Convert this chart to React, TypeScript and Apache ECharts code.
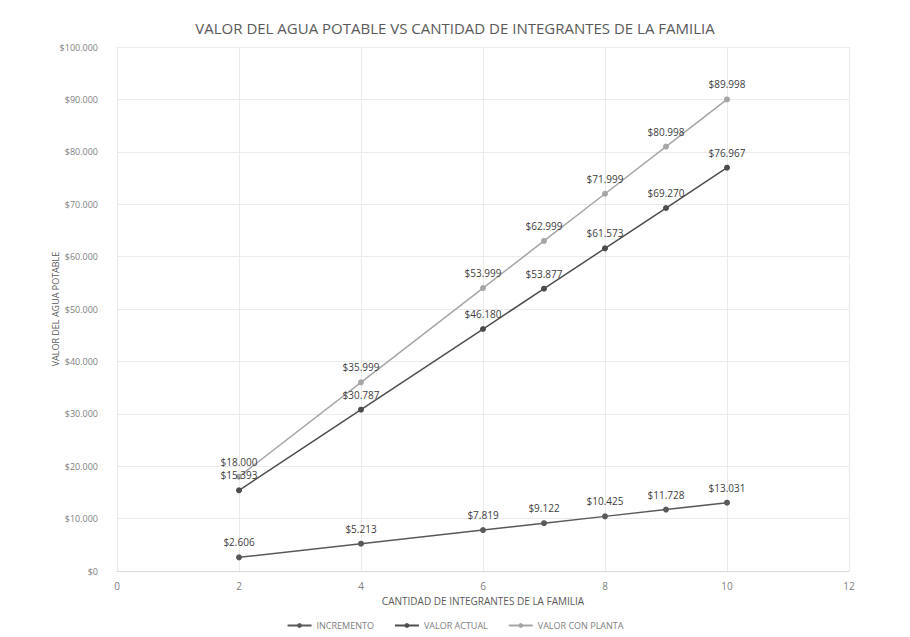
import React, { useEffect, useRef } from "react";
import * as echarts from "echarts";

const xValues = [2, 4, 6, 7, 8, 9, 10];
const incremento = [2606, 5213, 7819, 9122, 10425, 11728, 13031];
const valorActual = [15393, 30787, 46180, 53877, 61573, 69270, 76967];
const valorConPlanta = [18000, 35999, 53999, 62999, 71999, 80998, 89998];

const FONT = "'Open Sans', sans-serif";

const money = (v: number) =>
  "$" + Math.round(v).toString().replace(/\B(?=(\d{3})+(?!\d))/g, ".");

const pairs = (ys: number[]) => xValues.map((x, i) => [x, ys[i]]);

export default function App() {
  const ref = useRef<HTMLDivElement>(null);
  useEffect(() => {
    if (!ref.current) return;
    const chart = echarts.init(ref.current, null, { renderer: "svg" });
    const mk = (name: string, data: number[], color: string) => ({
      name,
      type: "line",
      data: pairs(data),
      symbol: "circle",
      symbolSize: 6,
      lineStyle: { color, width: 1.5 },
      itemStyle: { color },
      label: {
        show: true,
        position: "top",
        distance: 7,
        color: "#404040",
        fontSize: 10,
        fontFamily: FONT,
        formatter: (p: any) => money(p.value[1]),
      },
    });
    chart.setOption({
      animation: false,
      backgroundColor: "#ffffff",
      textStyle: { fontFamily: FONT },
      title: {
        text: "VALOR DEL AGUA POTABLE VS CANTIDAD DE INTEGRANTES DE LA FAMILIA",
        left: "center",
        top: 15,
        textStyle: { fontSize: 15, fontWeight: "normal", color: "#595959", fontFamily: FONT },
      },
      grid: { left: 117, right: 61, top: 47, bottom: 66, containLabel: false },
      xAxis: {
        type: "value",
        min: 0,
        max: 12,
        interval: 2,
        name: "CANTIDAD DE INTEGRANTES DE LA FAMILIA",
        nameLocation: "middle",
        nameGap: 25,
        nameMoveOverlap: false,
        nameTextStyle: { color: "#595959", fontSize: 10, fontFamily: FONT },
        axisLine: { lineStyle: { color: "#d9d9d9" } },
        axisTick: { show: false },
        axisLabel: { color: "#808080", fontSize: 10, margin: 10, fontFamily: FONT },
        splitLine: { show: true, lineStyle: { color: "#ebebeb" } },
      },
      yAxis: {
        type: "value",
        min: 0,
        max: 100000,
        interval: 10000,
        name: "VALOR DEL AGUA POTABLE",
        nameLocation: "middle",
        nameGap: 57,
        nameMoveOverlap: false,
        nameTextStyle: { color: "#595959", fontSize: 9, fontFamily: FONT },
        axisLine: { show: true, lineStyle: { color: "#ebebeb" } },
        axisTick: { show: false },
        axisLabel: {
          color: "#808080",
          fontSize: 9,
          margin: 19,
          fontFamily: FONT,
          formatter: (v: number) => money(v),
        },
        splitLine: { show: true, lineStyle: { color: "#ebebeb" } },
      },
      legend: {
        bottom: 2,
        left: "center",
        itemWidth: 24,
        itemHeight: 6,
        itemGap: 20,
        textStyle: { color: "#808080", fontSize: 9, fontFamily: FONT },
        data: ["INCREMENTO", "VALOR ACTUAL", "VALOR CON PLANTA"],
      },
      series: [
        mk("INCREMENTO", incremento, "#595959"),
        mk("VALOR ACTUAL", valorActual, "#4d4d4d"),
        mk("VALOR CON PLANTA", valorConPlanta, "#a6a6a6"),
      ],
    });
    return () => chart.dispose();
  }, []);
  return (
    <div
      ref={ref}
      style={{ position: "fixed", left: 0, top: 0, width: 910, height: 637 }}
    />
  );
}
